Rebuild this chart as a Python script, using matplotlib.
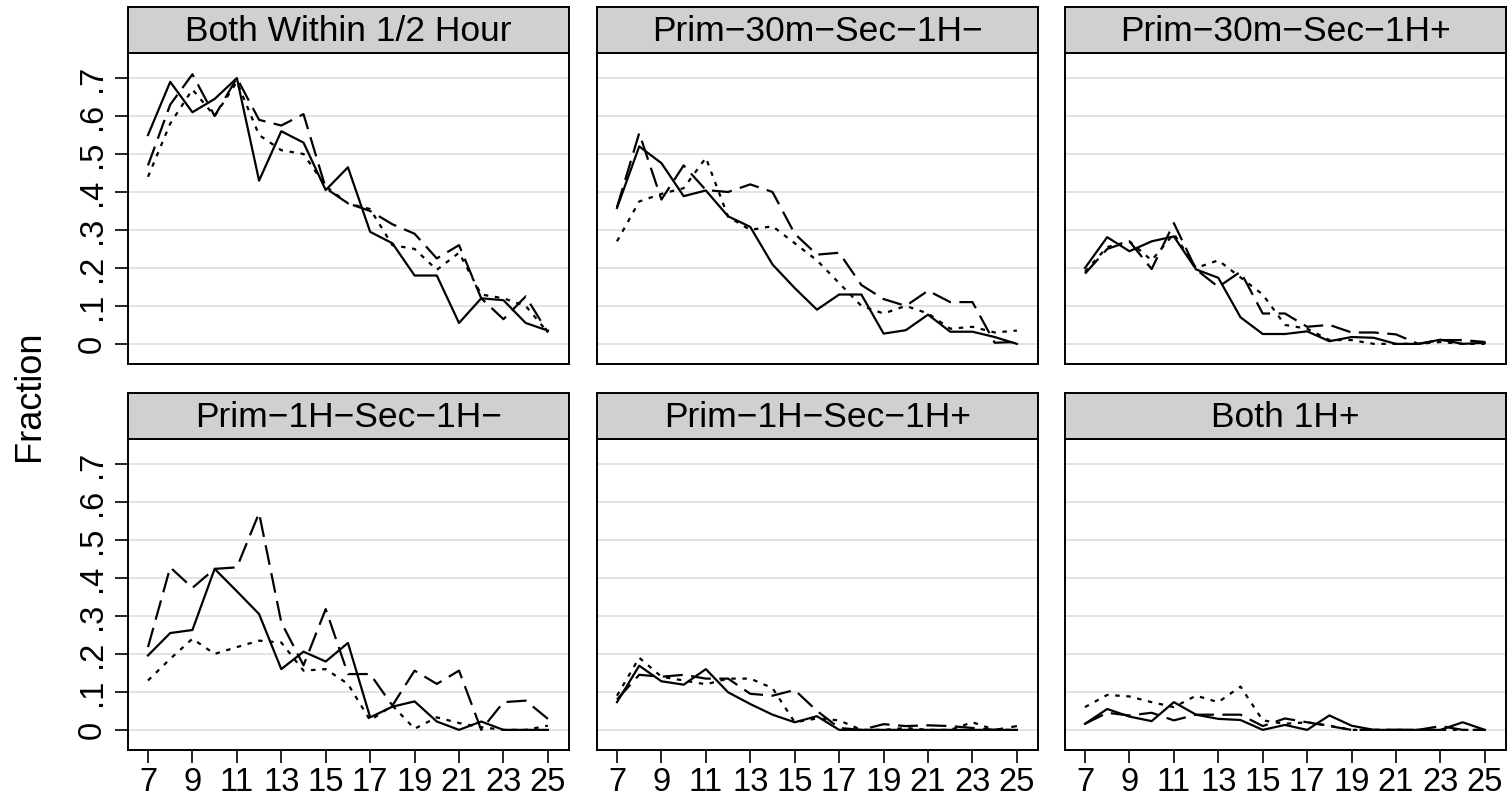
import matplotlib
matplotlib.use("Agg")
import matplotlib.pyplot as plt

# ---------------- data ----------------
hours = list(range(7, 26))
panel_titles = ["Both Within 1/2 Hour", "Prim\u221230m\u2212Sec\u22121H\u2212", "Prim\u221230m\u2212Sec\u22121H+",
                "Prim\u22121H\u2212Sec\u22121H\u2212", "Prim\u22121H\u2212Sec\u22121H+", "Both 1H+"]
y_ticks = [0, 0.1, 0.2, 0.3, 0.4, 0.5, 0.6, 0.7]
y_tick_labels = ["0", ".1", ".2", ".3", ".4", ".5", ".6", ".7"]
x_ticks = [7, 9, 11, 13, 15, 17, 19, 21, 23, 25]
y_label = "Fraction"

# Panel 1: Both Within 1/2 Hour
p1_solid = [0.55, 0.69, 0.61, 0.645, 0.70, 0.43, 0.56, 0.53, 0.405, 0.465, 0.295, 0.265, 0.18, 0.18, 0.055, 0.12, 0.115, 0.055, 0.035]
p1_dash = [0.47, 0.63, 0.71, 0.60, 0.70, 0.59, 0.575, 0.605, 0.41, 0.37, 0.35, 0.315, 0.29, 0.225, 0.26, 0.12, 0.065, 0.125, 0.03]
p1_dot = [0.44, 0.58, 0.67, 0.60, 0.69, 0.55, 0.51, 0.50, 0.415, 0.37, 0.355, 0.26, 0.25, 0.195, 0.24, 0.13, 0.12, 0.10, 0.03]

# Panel 2: Prim-30m-Sec-1H-
p2_solid = [0.358, 0.52, 0.476, 0.389, 0.404, 0.336, 0.308, 0.209, 0.147, 0.09, 0.13, 0.13, 0.027, 0.036, 0.077, 0.032, 0.032, 0.018, 0.0]
p2_dash = [0.36, 0.555, 0.38, 0.47, 0.405, 0.40, 0.42, 0.40, 0.29, 0.235, 0.24, 0.155, 0.118, 0.10, 0.14, 0.11, 0.11, 0.003, 0.005]
p2_dot = [0.27, 0.375, 0.395, 0.41, 0.49, 0.335, 0.30, 0.31, 0.265, 0.22, 0.16, 0.10, 0.08, 0.10, 0.08, 0.04, 0.045, 0.03, 0.035]

# Panel 3: Prim-30m-Sec-1H+
p3_solid = [0.20, 0.281, 0.244, 0.27, 0.283, 0.196, 0.174, 0.07, 0.026, 0.026, 0.033, 0.007, 0.018, 0.016, 0.0, 0.0, 0.011, 0.0, 0.003]
p3_dash = [0.185, 0.25, 0.27, 0.197, 0.318, 0.196, 0.15, 0.19, 0.08, 0.08, 0.045, 0.05, 0.03, 0.03, 0.025, 0.0, 0.01, 0.01, 0.005]
p3_dot = [0.19, 0.255, 0.27, 0.22, 0.29, 0.20, 0.22, 0.175, 0.13, 0.05, 0.04, 0.01, 0.01, 0.0, 0.0, 0.0, 0.005, 0.0, 0.0]

# Panel 4: Prim-1H-Sec-1H-
p4_solid = [0.196, 0.255, 0.263, 0.424, 0.365, 0.305, 0.16, 0.206, 0.18, 0.229, 0.033, 0.061, 0.075, 0.022, 0.0, 0.022, 0.0, 0.0, 0.0]
p4_dash = [0.218, 0.428, 0.374, 0.424, 0.428, 0.571, 0.283, 0.17, 0.318, 0.147, 0.147, 0.064, 0.156, 0.121, 0.156, 0.0, 0.073, 0.077, 0.029]
p4_dot = [0.13, 0.187, 0.24, 0.20, 0.218, 0.235, 0.23, 0.156, 0.16, 0.121, 0.025, 0.064, 0.003, 0.033, 0.018, 0.007, 0.0, 0.0, 0.011]

# Panel 5: Prim-1H-Sec-1H+
p5_solid = [0.073, 0.169, 0.128, 0.119, 0.16, 0.099, 0.068, 0.04, 0.02, 0.036, 0.0, 0.0, 0.0, 0.0, 0.0, 0.0, 0.0, 0.0, 0.0]
p5_dash = [0.08, 0.145, 0.14, 0.145, 0.135, 0.135, 0.095, 0.09, 0.105, 0.05, 0.005, 0.0, 0.015, 0.01, 0.012, 0.01, 0.005, 0.0, 0.01]
p5_dot = [0.09, 0.19, 0.14, 0.13, 0.12, 0.135, 0.135, 0.11, 0.02, 0.03, 0.025, 0.0, 0.0, 0.005, 0.0, 0.0, 0.02, 0.0, 0.0]

# Panel 6: Both 1H+
p6_solid = [0.016, 0.055, 0.035, 0.023, 0.073, 0.04, 0.029, 0.026, 0.0, 0.013, 0.0, 0.038, 0.011, 0.0, 0.0, 0.0, 0.0, 0.02, 0.0]
p6_dash = [0.016, 0.045, 0.038, 0.045, 0.025, 0.04, 0.04, 0.04, 0.01, 0.03, 0.02, 0.01, 0.0, 0.0, 0.0, 0.0, 0.01, 0.0, 0.0]
p6_dot = [0.06, 0.092, 0.088, 0.073, 0.06, 0.09, 0.073, 0.114, 0.025, 0.016, 0.02, 0.011, 0.0, 0.0, 0.0, 0.0, 0.0, 0.0, 0.0]

panels = [
    (p1_solid, p1_dash, p1_dot),
    (p2_solid, p2_dash, p2_dot),
    (p3_solid, p3_dash, p3_dot),
    (p4_solid, p4_dash, p4_dot),
    (p5_solid, p5_dash, p5_dot),
    (p6_solid, p6_dash, p6_dot),
]

# ---------------- layout ----------------
plt.rcParams["font.family"] = ["Liberation Sans", "DejaVu Sans"]
W, H = 1512, 799
fig = plt.figure(figsize=(W / 100, H / 100), dpi=100)
fig.patch.set_facecolor("white")

col_left = [128, 597, 1065]
col_w = 441
row_top = [53, 439]       # plot-area tops (px from top)
plot_h = 311
strip_h = 46

def fx(px):
    return px / W

def fy(py):
    return 1 - py / H

LW = 1.6
TICK_FS = 23.5
for i, (s, d, o) in enumerate(panels):
    r, c = divmod(i, 3)
    left = col_left[c]
    top = row_top[r]
    ax = fig.add_axes([fx(left), fy(top + plot_h), col_w / W, plot_h / H])
    ax.set_xlim(6.1, 25.95)
    ax.set_ylim(-0.053, 0.766)
    for yv in y_ticks:
        ax.axhline(yv, color="#e0e0e0", lw=1.3, zorder=0)
    ax.plot(hours, s, color="black", lw=LW, linestyle="-", zorder=3)
    ax.plot(hours, d, color="black", lw=LW, linestyle=(0, (9.0, 3.8)), zorder=3)
    ax.plot(hours, o, color="black", lw=LW, linestyle=(0, (2.0, 3.0)), zorder=3)
    for sp in ax.spines.values():
        sp.set_linewidth(1.4)
        sp.set_color("black")
    ax.set_yticks(y_ticks)
    ax.set_xticks(x_ticks)
    if c == 0:
        ax.set_yticklabels(y_tick_labels, rotation=90, va="center", fontsize=TICK_FS)
        ax.tick_params(axis="y", length=9.5, width=1.2, pad=5)
    else:
        ax.tick_params(axis="y", length=0, labelleft=False)
    if r == 1:
        ax.set_xticklabels([str(v) for v in x_ticks], fontsize=TICK_FS)
        ax.tick_params(axis="x", length=9.5, width=1.2, pad=3)
    else:
        ax.tick_params(axis="x", length=0, labelbottom=False)

    # strip header
    sax = fig.add_axes([fx(left), fy(top), col_w / W, strip_h / H])
    sax.set_xlim(0, 1)
    sax.set_ylim(0, 1)
    sax.set_facecolor("#d0d0d0")
    sax.set_xticks([])
    sax.set_yticks([])
    for sp in sax.spines.values():
        sp.set_linewidth(1.4)
        sp.set_color("black")
    sax.text(0.5, 0.47, panel_titles[i], ha="center", va="center", fontsize=25.5)

fig.text(fx(30), fy(396), y_label, rotation=90, ha="center", va="center", fontsize=26)

fig.savefig("out.png", dpi=100, facecolor="white")
